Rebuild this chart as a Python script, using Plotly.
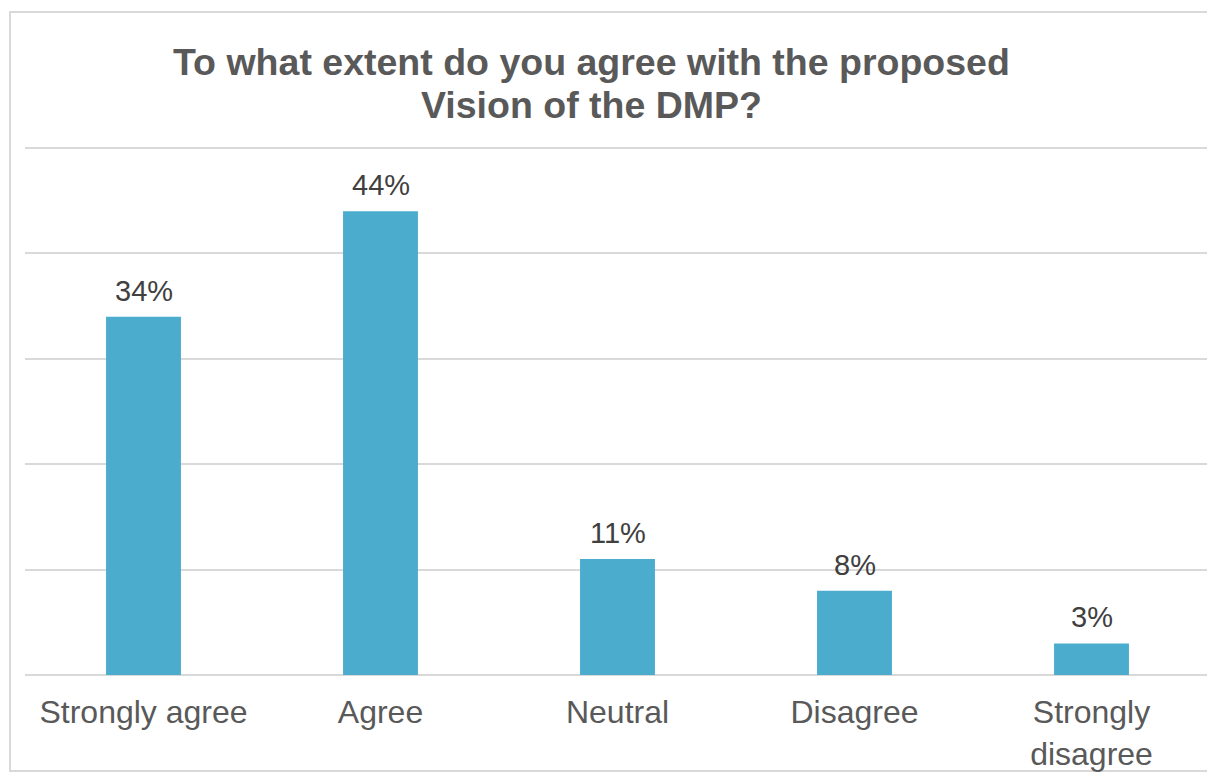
import plotly.graph_objects as go

# Survey responses
categories = ["Strongly agree", "Agree", "Neutral", "Disagree", "Strongly<br>disagree"]
percentages = [34, 44, 11, 8, 3]
title_lines = ["To what extent do you agree with the proposed", "Vision of the DMP?"]

BAR_COLOR = "#4BACCE"
GRID_COLOR = "#D9D9D9"
TEXT_DARK = "#404040"
TEXT_MID = "#595959"
FONT = "Liberation Sans, Arial, sans-serif"

W, H = 1207, 775
M_L, M_R, M_T, M_B = 25, 0, 147, 100
plot_w = W - M_L - M_R
plot_h = H - M_T - M_B
cat_px = 237  # horizontal pixels per category
y_top = 50.1  # a little headroom so the 50% gridline is drawn


def px_x(px):
    return (px - M_L) / plot_w


def px_y(py):
    return (H - M_B - py) / plot_h


x_idx = list(range(len(categories)))

fig = go.Figure()
fig.add_trace(go.Bar(
    x=x_idx,
    y=percentages,
    width=0.316,
    marker=dict(color=BAR_COLOR, line=dict(width=0)),
    hoverinfo="skip",
))

# value labels above each bar
for xi, v in zip(x_idx, percentages):
    fig.add_annotation(
        x=xi, y=v, xref="x", yref="y",
        text=f"{v}%", showarrow=False,
        yanchor="bottom", yshift=8,
        font=dict(family=FONT, size=29, color=TEXT_DARK),
    )

# two-line title
for text, py in zip(title_lines, (62, 105)):
    fig.add_annotation(
        x=px_x(591), y=px_y(py), xref="paper", yref="paper",
        text=f"<b>{text}</b>", showarrow=False,
        xanchor="center", yanchor="middle",
        font=dict(family=FONT, size=37.5, color=TEXT_MID),
    )

# chart frame
fig.add_shape(
    type="rect", xref="paper", yref="paper",
    x0=px_x(10), x1=px_x(1215), y0=px_y(771), y1=px_y(12),
    line=dict(color=GRID_COLOR, width=2), fillcolor="rgba(0,0,0,0)",
    layer="below",
)

fig.update_layout(
    width=W, height=H,
    margin=dict(l=M_L, r=M_R, t=M_T, b=M_B, pad=0),
    paper_bgcolor="white", plot_bgcolor="white",
    showlegend=False,
    font=dict(family=FONT),
    xaxis=dict(
        tickmode="array", tickvals=x_idx, ticktext=categories,
        range=[-0.5, -0.5 + plot_w / cat_px],
        showgrid=False, zeroline=False, showline=False,
        ticks="", ticklabelstandoff=15,
        tickfont=dict(family=FONT, size=32, color=TEXT_MID),
        fixedrange=True,
    ),
    yaxis=dict(
        range=[0, y_top], dtick=10,
        showgrid=True, gridcolor=GRID_COLOR, gridwidth=1.5,
        zeroline=True, zerolinecolor=GRID_COLOR, zerolinewidth=1.5,
        showticklabels=False, showline=False, ticks="",
        fixedrange=True,
    ),
)

fig.write_html("out.html")
